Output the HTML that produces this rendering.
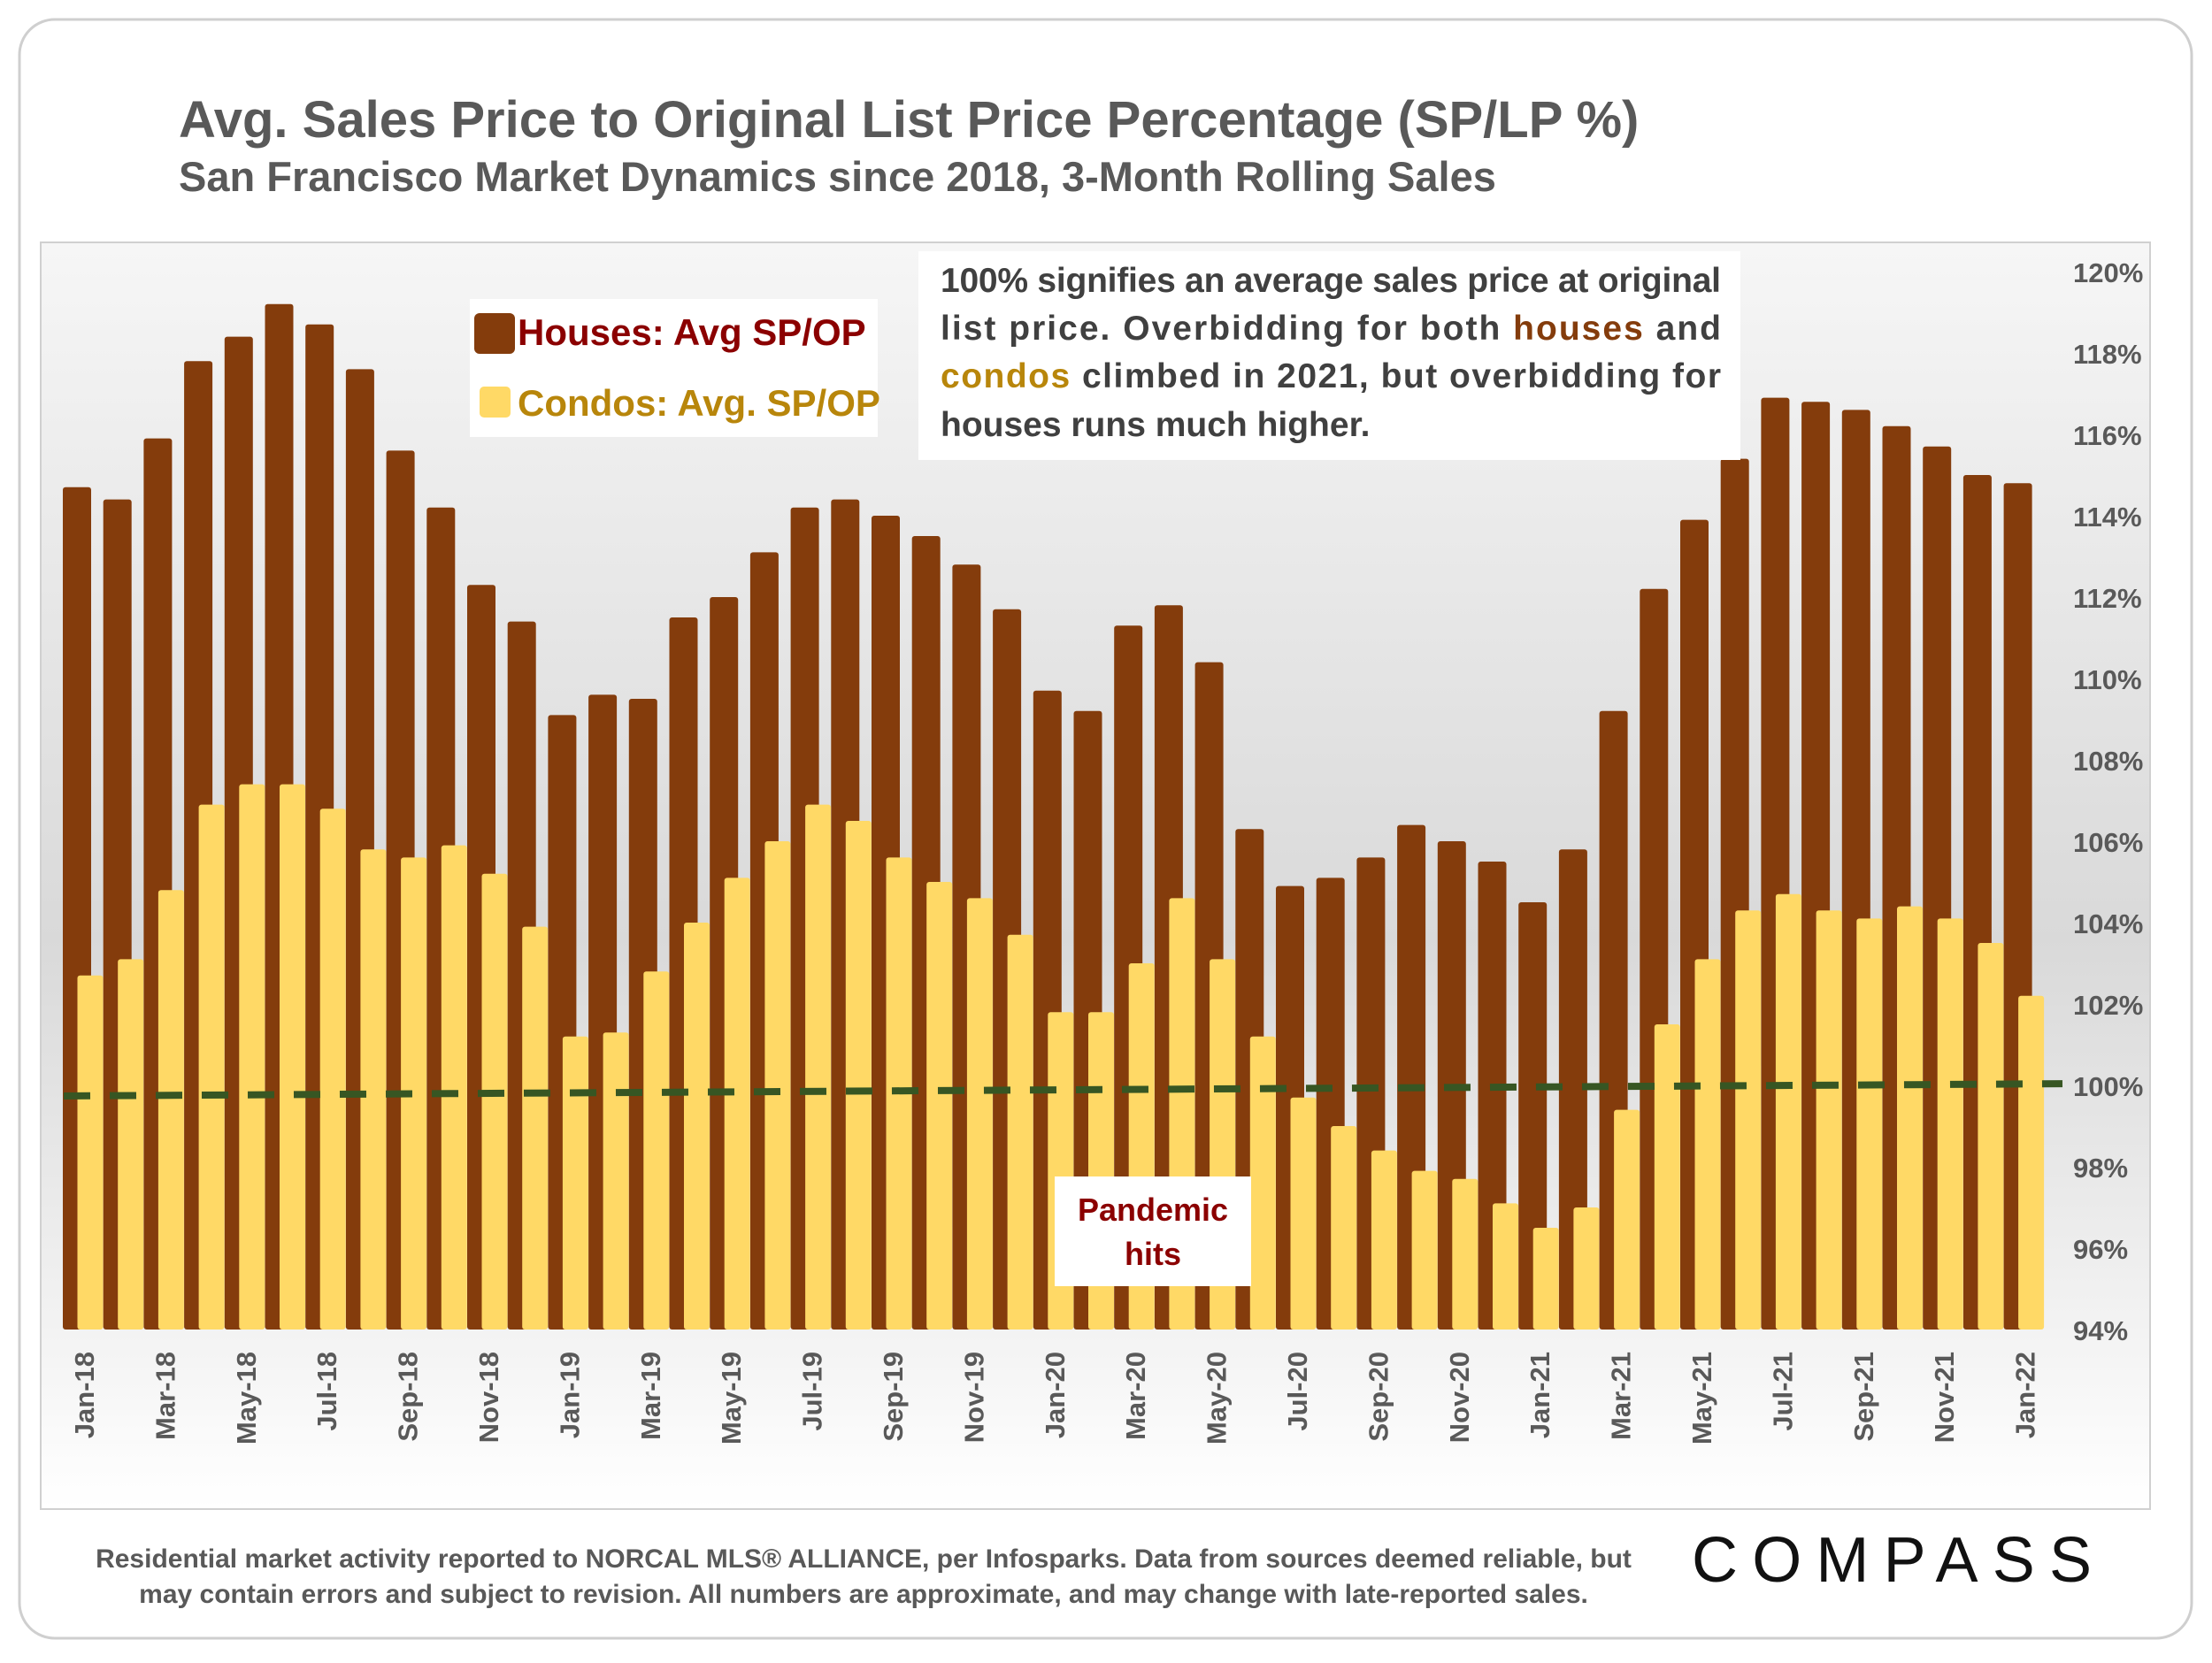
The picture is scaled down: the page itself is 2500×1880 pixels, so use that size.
<!DOCTYPE html>
<html><head><meta charset="utf-8">
<style>
html,body{margin:0;padding:0;background:#fff;}
body{width:2500px;height:1875px;position:relative;overflow:hidden;font-family:"Liberation Sans",sans-serif;}
svg text{font-family:"Liberation Sans",sans-serif;font-weight:bold;}
</style></head>
<body>
<svg id="chart" width="2500" height="1875" viewBox="0 0 2500 1875" xmlns="http://www.w3.org/2000/svg">
<defs>
<linearGradient id="bg" x1="0" y1="0" x2="0" y2="1">
<stop offset="0" stop-color="#f6f6f6"/><stop offset="0.55" stop-color="#d9d9d9"/><stop offset="0.85" stop-color="#f2f2f2"/><stop offset="1" stop-color="#ffffff"/>
</linearGradient>
</defs>
<rect x="22" y="22" width="2455" height="1830" rx="40" fill="#fff" stroke="#cfcfcf" stroke-width="3"/>
<text x="202" y="155" font-size="58" fill="#595959">Avg. Sales Price to Original List Price Percentage (SP/LP %)</text>
<text x="202" y="216" font-size="47" fill="#595959">San Francisco Market Dynamics since 2018, 3-Month Rolling Sales</text>
<rect x="46" y="274" width="2384" height="1432" fill="url(#bg)" stroke="#d0d0d0" stroke-width="2"/>
<g id="bars"></g>
<g id="yaxis"></g>
<g id="xaxis"></g>
<g id="trend"></g>
<g>
<rect x="531" y="338" width="461" height="156" fill="#fff"/>
<rect x="536" y="354" width="46" height="46" rx="6" fill="#843c0c"/>
<text x="585" y="390" font-size="42" fill="#8b0000">Houses: Avg SP/OP</text>
<rect x="542" y="437" width="35" height="35" rx="5" fill="#ffd966"/>
<text x="585" y="470" font-size="42" fill="#b8860b">Condos: Avg. SP/OP</text>
</g>
<g>
<rect x="1038" y="284" width="929" height="236" fill="#fff"/>
<text x="1063" y="330" font-size="39" fill="#404040" textLength="882" lengthAdjust="spacing">100% signifies an average sales price at original</text>
<text x="1063" y="384" font-size="39" fill="#404040" textLength="882" lengthAdjust="spacing">list price. Overbidding for both <tspan fill="#843c0c">houses</tspan> and</text>
<text x="1063" y="438" font-size="39" fill="#404040" textLength="882" lengthAdjust="spacing"><tspan fill="#b8860b">condos</tspan> climbed in 2021, but overbidding for</text>
<text x="1063" y="493" font-size="39" fill="#404040">houses runs much higher.</text>
</g>
<g>
<rect x="1192" y="1330" width="222" height="124" fill="#fff"/>
<text x="1303" y="1380" font-size="36" fill="#8b0000" text-anchor="middle">Pandemic</text>
<text x="1303" y="1430" font-size="36" fill="#8b0000" text-anchor="middle">hits</text>
</g>
<text x="976" y="1772" font-size="30" fill="#595959" text-anchor="middle">Residential market activity reported to NORCAL MLS® ALLIANCE, per Infosparks. Data from sources deemed reliable, but</text>
<text x="976" y="1812" font-size="30" fill="#595959" text-anchor="middle">may contain errors and subject to revision. All numbers are approximate, and may change with late-reported sales.</text>
<text x="1912" y="1788" font-size="72" fill="#111" textLength="452" lengthAdjust="spacing" style="font-weight:normal">COMPASS</text>
</svg>
<script>
const months = ["Jan-18","Feb-18","Mar-18","Apr-18","May-18","Jun-18","Jul-18","Aug-18","Sep-18","Oct-18","Nov-18","Dec-18","Jan-19","Feb-19","Mar-19","Apr-19","May-19","Jun-19","Jul-19","Aug-19","Sep-19","Oct-19","Nov-19","Dec-19","Jan-20","Feb-20","Mar-20","Apr-20","May-20","Jun-20","Jul-20","Aug-20","Sep-20","Oct-20","Nov-20","Dec-20","Jan-21","Feb-21","Mar-21","Apr-21","May-21","Jun-21","Jul-21","Aug-21","Sep-21","Oct-21","Nov-21","Dec-21","Jan-22"];
const houses = [114.7,114.4,115.9,117.8,118.4,119.2,118.7,117.6,115.6,114.2,112.3,111.4,109.1,109.6,109.5,111.5,112.0,113.1,114.2,114.4,114.0,113.5,112.8,111.7,109.7,109.2,111.3,111.8,110.4,106.3,104.9,105.1,105.6,106.4,106.0,105.5,104.5,105.8,109.2,112.2,113.9,115.4,116.9,116.8,116.6,116.2,115.7,115.0,114.8];
const condos = [102.7,103.1,104.8,106.9,107.4,107.4,106.8,105.8,105.6,105.9,105.2,103.9,101.2,101.3,102.8,104.0,105.1,106.0,106.9,106.5,105.6,105.0,104.6,103.7,101.8,101.8,103.0,104.6,103.1,101.2,99.7,99.0,98.4,97.9,97.7,97.1,96.5,97.0,99.4,101.5,103.1,104.3,104.7,104.3,104.1,104.4,104.1,103.5,102.2];
const yTicks = [94,96,98,100,102,104,106,108,110,112,114,116,118,120];
const trendStart = [99.74];
const trendEnd = [100.04];

const NS = "http://www.w3.org/2000/svg";
const yMin = 94, yMax = 120, yBase = 1503, yTop = 307;
function y(v){ return yBase - (v - yMin) / (yMax - yMin) * (yBase - yTop); }
const x0 = 71, step = 45.7;
function x(i){ return x0 + i * step; }
function mk(tag, attrs, parent){ const e = document.createElementNS(NS, tag); for (const k in attrs) e.setAttribute(k, attrs[k]); parent.appendChild(e); return e; }

const bars = document.getElementById('bars');
houses.forEach((v,i)=>{
  const r = mk('rect',{x:x(i),y:y(v),width:32,height:yBase-y(v),fill:'#843c0c',rx:3},bars);
  
  
});
condos.forEach((v,i)=>{
  const r = mk('rect',{x:x(i)+16.5,y:y(v),width:29,height:yBase-y(v),fill:'#ffd966',rx:3},bars);
  
  
});
const ya = document.getElementById('yaxis');
yTicks.forEach(t=>{
  const e = mk('text',{x:2343,y:y(t)+12,'font-size':31,fill:'#595959'},ya);
  e.textContent = t + '%';
  
  
});
const xa = document.getElementById('xaxis');
months.forEach((m,i)=>{
  if (i % 2) return;
  const cx = x(i) + 24, ty = 1528;
  const e = mk('text',{x:cx+11,y:ty,'font-size':31,fill:'#595959','text-anchor':'end',transform:`rotate(-90 ${cx+11} ${ty})`},xa);
  e.textContent = m;
  
  
});
const tg = document.getElementById('trend');
const tl = mk('line',{x1:72,y1:y(trendStart[0]),x2:2331,y2:y(trendEnd[0]),stroke:'#375623','stroke-width':8,'stroke-dasharray':'30 22'},tg);


</script>
</body></html>
